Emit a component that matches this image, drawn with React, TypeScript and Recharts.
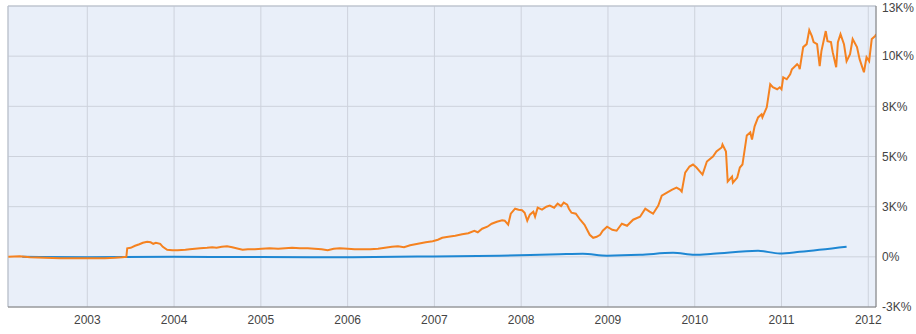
import React from "react";
import { LineChart, Line, XAxis, YAxis, CartesianGrid, ReferenceLine } from "recharts";

const xTicks = [2003, 2004, 2005, 2006, 2007, 2008, 2009, 2010, 2011, 2012];
const xTickLabels = ["2003", "2004", "2005", "2006", "2007", "2008", "2009", "2010", "2011", "2012"];
const yTicks = [-2500, 0, 2500, 5000, 7500, 10000, 12500];
const yTickLabels = ["-3K%", "0%", "3K%", "5K%", "8K%", "10K%", "13K%"];
const xDomain = [2002.086, 2012.089];
const yDomain = [-2500, 12500];

const orangeYears = [
  2002.09, 2002.22, 2002.34, 2002.51, 2002.69, 2002.86, 2003.03, 2003.2, 2003.32, 2003.4, 2003.45, 2003.46,
  2003.5, 2003.55, 2003.6, 2003.64, 2003.69, 2003.73, 2003.76, 2003.79, 2003.84, 2003.87, 2003.92, 2003.98,
  2004.04, 2004.13, 2004.18, 2004.24, 2004.3, 2004.38, 2004.44, 2004.49, 2004.55, 2004.61, 2004.67, 2004.74,
  2004.79, 2004.85, 2004.93, 2005.01, 2005.1, 2005.2, 2005.28, 2005.36, 2005.45, 2005.54, 2005.62, 2005.7,
  2005.77, 2005.84, 2005.91, 2006.0, 2006.08, 2006.16, 2006.26, 2006.35, 2006.43, 2006.51, 2006.58, 2006.65,
  2006.72, 2006.81, 2006.9, 2006.98, 2007.04, 2007.09, 2007.16, 2007.24, 2007.32, 2007.39, 2007.46, 2007.5,
  2007.55, 2007.61, 2007.66, 2007.72, 2007.78, 2007.81, 2007.85, 2007.88, 2007.93, 2007.97, 2008.01, 2008.04,
  2008.07, 2008.1, 2008.14, 2008.16, 2008.19, 2008.24, 2008.29, 2008.33, 2008.38, 2008.42, 2008.46, 2008.49,
  2008.53, 2008.55, 2008.58, 2008.63, 2008.68, 2008.73, 2008.79, 2008.83, 2008.87, 2008.91, 2008.94, 2008.99,
  2009.05, 2009.1, 2009.16, 2009.22, 2009.29, 2009.37, 2009.43, 2009.48, 2009.52, 2009.58, 2009.62, 2009.68,
  2009.74, 2009.79, 2009.83, 2009.85, 2009.89, 2009.94, 2009.98, 2010.02, 2010.06, 2010.09, 2010.14, 2010.21,
  2010.25, 2010.31, 2010.32, 2010.36, 2010.38, 2010.43, 2010.44, 2010.49, 2010.52, 2010.55, 2010.6, 2010.64,
  2010.66, 2010.69, 2010.73, 2010.77, 2010.78, 2010.83, 2010.87, 2010.9, 2010.95, 2010.98, 2011.0, 2011.02,
  2011.06, 2011.1, 2011.12, 2011.18, 2011.2, 2011.21, 2011.25, 2011.29, 2011.32, 2011.35, 2011.37, 2011.41,
  2011.44, 2011.46, 2011.51, 2011.53, 2011.57, 2011.59, 2011.63, 2011.65, 2011.68, 2011.72, 2011.75, 2011.79,
  2011.82, 2011.87, 2011.9, 2011.95, 2011.98, 2012.01, 2012.04, 2012.08, 2012.09,
];
const orangeValues = [
  0, 25, -25, -50, -65, -75, -75, -75, -50, -25, 0, 425,
  450, 550, 625, 700, 750, 725, 650, 700, 650, 500, 350, 325,
  325, 350, 375, 400, 425, 450, 475, 450, 500, 525, 475, 400,
  350, 375, 375, 400, 425, 400, 425, 450, 425, 425, 400, 375,
  325, 400, 425, 400, 375, 375, 375, 400, 450, 500, 525, 475,
  575, 650, 725, 775, 850, 950, 1000, 1050, 1125, 1175, 1300, 1225,
  1400, 1500, 1650, 1750, 1825, 1800, 1600, 2150, 2400, 2350, 2325, 2200,
  1800, 2100, 2250, 2000, 2450, 2350, 2500, 2550, 2450, 2650, 2525, 2700,
  2600, 2400, 2200, 2150, 1850, 1600, 1100, 950, 1000, 1100, 1300, 1500,
  1350, 1300, 1650, 1550, 1850, 2000, 2400, 2250, 2150, 2550, 3050, 3200,
  3350, 3450, 3350, 3250, 4200, 4500, 4600, 4450, 4250, 4100, 4750, 5000,
  5250, 5450, 5600, 5250, 3750, 4000, 3700, 3950, 4450, 4600, 6050, 6200,
  5850, 6500, 6950, 7100, 6950, 7450, 8600, 8450, 8350, 8450, 8350, 8950,
  8850, 9100, 9350, 9600, 9500, 9350, 10450, 10600, 11300, 11000, 10700, 10600,
  9500, 10250, 11250, 10750, 10700, 10200, 9450, 10700, 11100, 10600, 9750, 10100,
  10850, 10450, 9850, 9200, 9950, 9750, 10850, 11000, 11100,
];

const blueYears = [
  2002.25, 2003.0, 2004.0, 2004.99, 2006.0, 2006.99, 2007.75, 2008.44, 2008.71, 2008.99,
  2009.37, 2009.75, 2010.0, 2010.21, 2010.73, 2010.98, 2011.21, 2011.75,
];
const blueValues = [0, -20, 0, -10, -20, 20, 60, 130, 150, 60, 100, 200, 100, 150, 300, 170, 250, 500];

const orangeData = orangeYears.map((t, i) => ({ t, v: orangeValues[i] }));
const blueData = blueYears.map((t, i) => ({ t, v: blueValues[i] }));

const FONT = "'Liberation Sans', Arial, sans-serif";

export default function App() {
  return (
    <div style={{ position: "absolute", left: 0, top: 0, width: 916, height: 334, background: "#fff" }}>
      <LineChart width={916} height={334} margin={{ top: 6, right: 0, left: 8, bottom: 0 }}>
        <CartesianGrid fill="#e9eff9" stroke="#cdd2dc" strokeWidth={1} />
        <XAxis
          type="number"
          dataKey="t"
          domain={xDomain}
          ticks={xTicks}
          allowDataOverflow
          height={27}
          tickLine={false}
          axisLine={{ stroke: "#7d7d7d" }}
          tick={{ fill: "#444", fontSize: 12, fontFamily: FONT }}
          tickFormatter={(v) => xTickLabels[xTicks.indexOf(v)] ?? String(v)}
        />
        <YAxis
          orientation="right"
          type="number"
          dataKey="v"
          domain={yDomain}
          ticks={yTicks}
          allowDataOverflow
          width={40}
          tickLine={false}
          tickSize={4}
          axisLine={{ stroke: "#7d7d7d" }}
          tick={{ fill: "#444", fontSize: 12, fontFamily: FONT, textAnchor: "start" }}
          tickFormatter={(v) => yTickLabels[yTicks.indexOf(v)] ?? String(v)}
        />
        <ReferenceLine x={xDomain[0]} stroke="#b8bec9" />
        <ReferenceLine y={yDomain[1]} stroke="#b8bec9" />
        <Line
          data={blueData}
          dataKey="v"
          type="monotone"
          stroke="#1e87d3"
          strokeWidth={2}
          dot={false}
          isAnimationActive={false}
        />
        <Line
          data={orangeData}
          dataKey="v"
          type="linear"
          stroke="#f58220"
          strokeWidth={2}
          dot={false}
          isAnimationActive={false}
        />
      </LineChart>
    </div>
  );
}
